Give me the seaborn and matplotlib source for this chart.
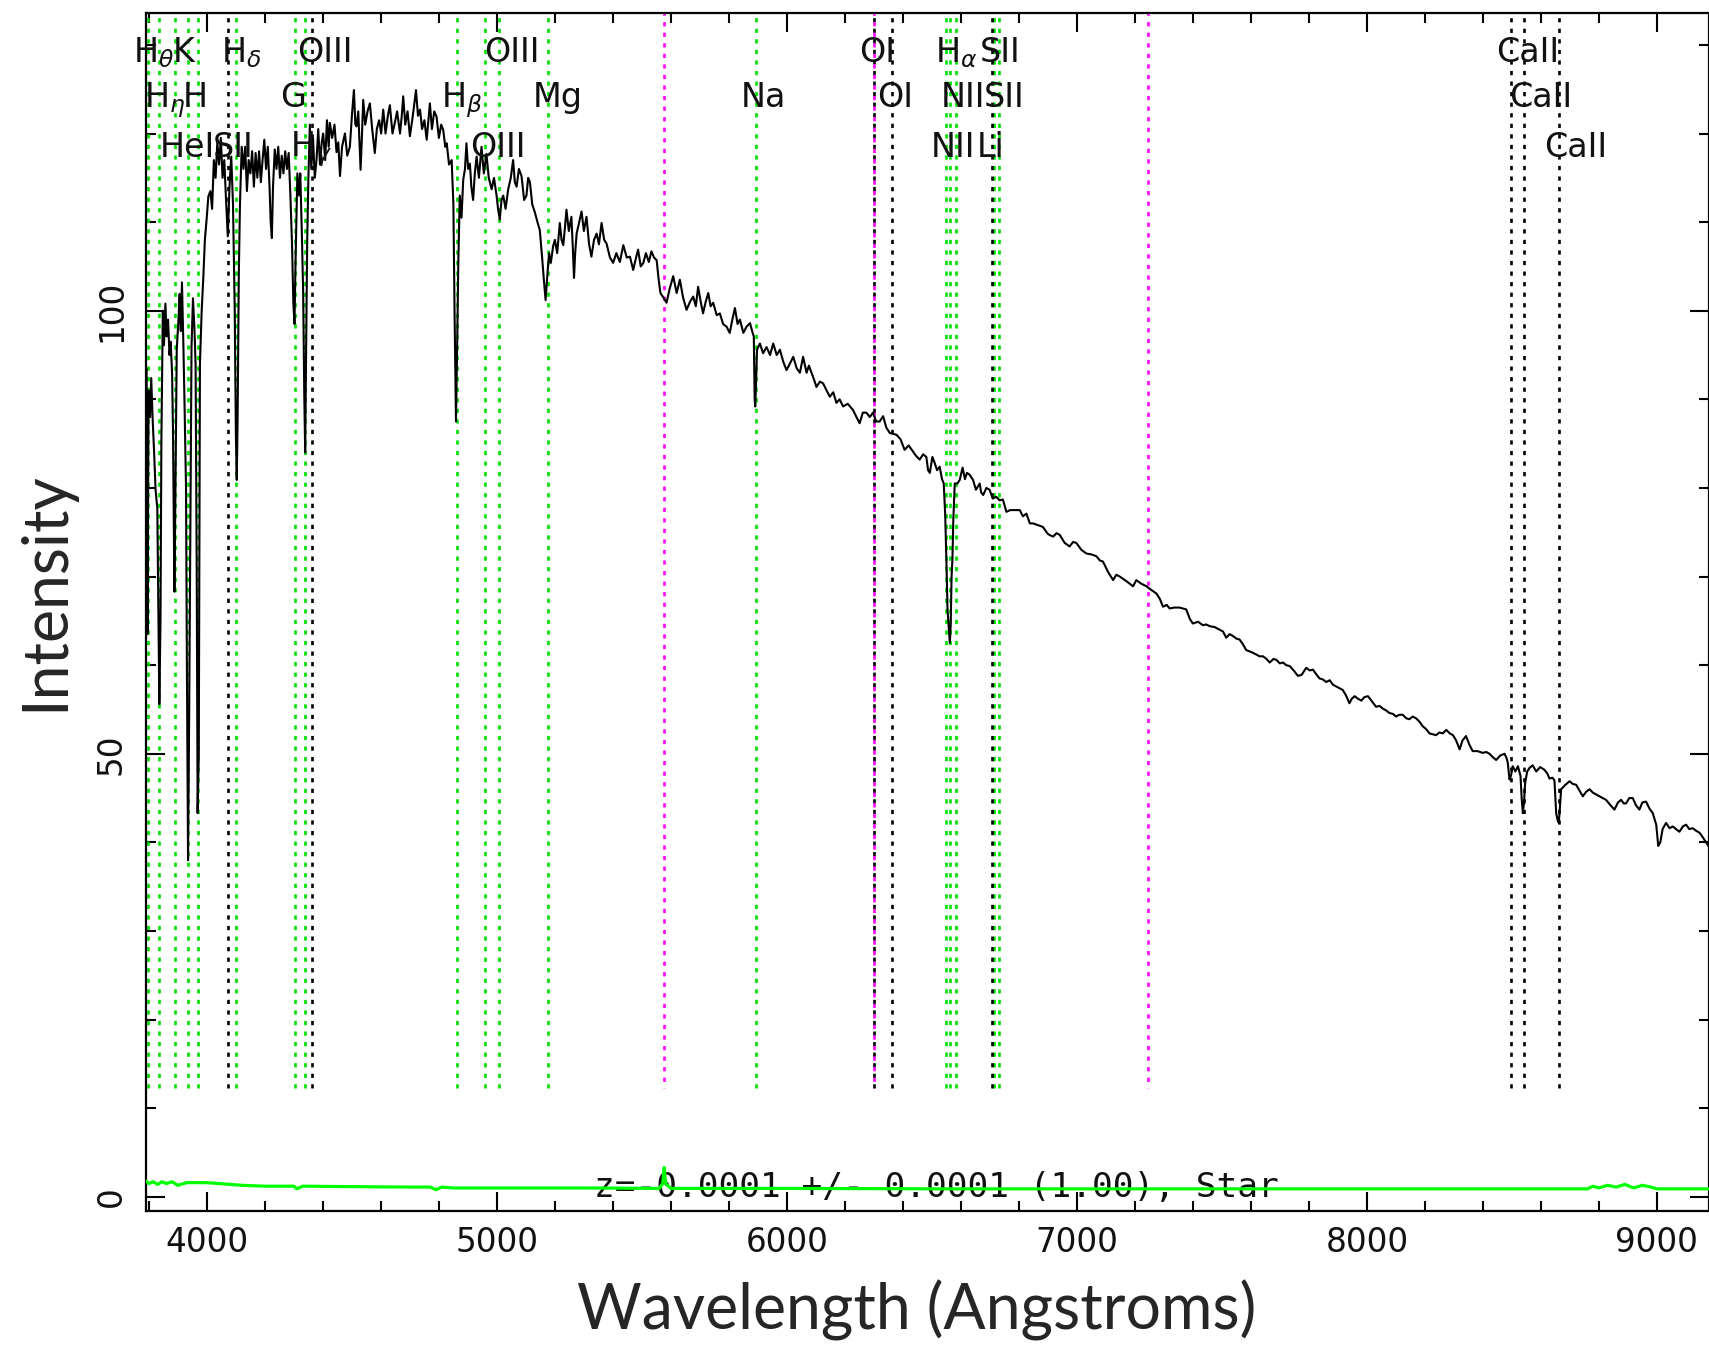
import matplotlib
matplotlib.use("Agg")
import matplotlib.pyplot as plt
import matplotlib.transforms as mtransforms
from matplotlib.ticker import MultipleLocator, FixedLocator
import numpy as np
import pandas as pd
import seaborn as sns

# ---------------- spectrum ----------------
w1 = [3792, 3795, 3799, 3804, 3808, 3813, 3818, 3823, 3829, 3833, 3836, 3840, 3843, 3848, 3852, 3857, 3861, 3866, 3871, 3875,
      3880, 3883, 3888, 3891, 3896, 3902, 3906, 3910, 3914, 3919, 3923, 3928, 3931, 3935, 3939, 3943, 3947, 3952, 3957, 3961,
      3965, 3968, 3972, 3976, 3982, 3988, 3993, 3999, 4005]
f1 = [93.5, 63.5, 91.0, 88.0, 92.4, 87.7, 84.0, 79.8, 77.7, 65.0, 55.6, 65.0, 85.0, 100.0, 96.1, 100.8, 97.1, 99.0, 95.0, 96.5,
      92.9, 86.6, 68.3, 78.0, 95.6, 99.0, 101.9, 97.7, 103.2, 96.0, 89.3, 80.0, 60.0, 38.0, 55.0, 76.1, 96.0, 101.4, 98.0, 94.0,
      70.0, 43.3, 49.9, 94.0, 100.0, 104.0, 108.0, 110.3, 112.9]

w2 = [4012, 4018, 4024, 4030, 4036, 4042, 4048, 4054, 4060, 4066, 4072, 4078, 4084, 4090, 4096, 4100, 4103, 4106, 4110, 4114,
      4120, 4126, 4132, 4138, 4144, 4150, 4156, 4162, 4168, 4174, 4180, 4186, 4192, 4198, 4204, 4210, 4216, 4220, 4224, 4228,
      4234, 4240, 4246, 4252, 4258, 4264, 4270, 4276, 4282, 4288, 4294, 4298, 4302, 4306, 4312, 4318, 4322, 4328, 4332, 4336,
      4339, 4342, 4346, 4350, 4355, 4360, 4366, 4372, 4378, 4384, 4390, 4396, 4401, 4408, 4414, 4420]
f2 = [113.5, 111.5, 117.0, 115.0, 119.0, 116.5, 119.5, 115.0, 117.0, 112.5, 108.4, 114.0, 117.4, 112.0, 100.0, 86.0, 80.9, 88.0, 104.0, 112.0,
      118.5, 116.0, 118.5, 113.5, 117.0, 115.5, 118.0, 114.0, 117.8, 115.0, 118.0, 114.5, 117.0, 119.3, 116.0, 118.5, 114.0, 110.0, 108.2, 114.0,
      118.2, 116.0, 118.5, 115.0, 117.5, 115.5, 118.0, 116.0, 117.8, 113.0, 107.0, 101.0, 98.5, 106.0, 115.5, 113.0, 115.5, 108.0, 102.0, 90.0,
      84.0, 95.0, 108.0, 115.0, 121.0, 116.0, 119.5, 115.0, 117.0, 120.5, 116.5, 119.0, 120.0, 117.0, 121.5, 118.5]

w3 = [4424, 4432, 4440, 4447, 4453, 4459, 4466, 4476, 4484, 4493, 4500, 4507, 4512, 4516, 4522, 4530, 4535, 4539, 4546, 4554,
      4562, 4570, 4579, 4586, 4594, 4601, 4608, 4616, 4624, 4631, 4640, 4648, 4656, 4666, 4672, 4677, 4684, 4692, 4700, 4708,
      4714, 4721, 4728, 4735, 4742, 4750, 4758, 4764, 4769, 4776, 4784, 4792, 4800, 4808, 4815, 4822, 4827, 4835, 4844, 4850,
      4854, 4859, 4863, 4867, 4872, 4878, 4884, 4890, 4895, 4901, 4907, 4912, 4918, 4924, 4930, 4938, 4947, 4955, 4964, 4972,
      4982, 4990, 4999]
f3 = [121.2, 119.5, 121.0, 117.9, 119.0, 115.2, 118.5, 120.0, 117.5, 118.5, 122.0, 124.9, 121.0, 120.8, 122.5, 115.9, 120.0, 123.8, 121.0, 122.5,
      123.4, 120.5, 117.8, 120.5, 121.5, 120.0, 122.7, 120.0, 122.0, 123.2, 120.0, 121.2, 122.5, 120.0, 122.0, 124.2, 121.0, 122.5, 119.7, 121.5,
      123.0, 124.9, 122.0, 122.7, 120.5, 121.5, 119.3, 121.5, 123.4, 120.5, 122.5, 121.9, 119.5, 121.0, 120.4, 118.5, 118.9, 116.5, 117.0, 112.0,
      100.0, 87.5, 96.0, 105.4, 113.0, 110.5, 114.8, 116.0, 118.9, 116.0, 116.6, 114.0, 112.5, 115.5, 117.4, 115.0, 118.5, 115.5, 117.7, 115.0,
      113.7, 115.0, 113.0]

w4 = [5004, 5010, 5016, 5022, 5030, 5039, 5048, 5056, 5062, 5068, 5076, 5085, 5094, 5102, 5108, 5114, 5122, 5131, 5140, 5148,
      5156, 5162, 5168, 5174, 5180, 5186, 5194, 5200, 5208, 5217, 5223, 5229, 5235, 5240, 5248, 5257, 5262, 5266, 5270, 5275,
      5284, 5292, 5300, 5309, 5318, 5326, 5335, 5344, 5352, 5361, 5370, 5378, 5390, 5401, 5412, 5424, 5436, 5448, 5459, 5470,
      5480, 5487, 5496, 5505, 5514, 5524, 5533, 5542, 5551, 5558, 5564, 5574, 5585, 5596, 5608, 5620, 5631, 5642, 5654, 5666,
      5677, 5686, 5694, 5703, 5711, 5720, 5729, 5737, 5746, 5758, 5769, 5780, 5792, 5803, 5812, 5821, 5830, 5838, 5850, 5861,
      5873, 5882, 5886, 5889, 5891, 5894, 5897, 5907, 5918, 5930, 5942, 5953, 5965, 5976, 5988, 5999]
f4 = [111.5, 110.3, 112.5, 113.0, 111.5, 113.7, 115.0, 117.0, 114.5, 114.0, 116.0, 115.2, 112.5, 113.0, 115.0, 114.5, 112.0, 111.1, 110.0, 109.1,
      106.0, 103.5, 101.2, 104.0, 106.5, 105.4, 107.3, 108.0, 106.5, 109.9, 108.0, 107.4, 109.5, 111.4, 109.0, 110.6, 107.0, 103.7, 106.5, 108.7,
      110.0, 111.2, 109.0, 110.6, 107.5, 106.1, 108.0, 108.7, 107.5, 109.9, 108.0, 107.6, 106.0, 105.4, 106.5, 105.5, 107.4, 106.0, 106.1, 104.6,
      106.0, 106.9, 105.0, 105.4, 106.5, 105.5, 106.7, 106.0, 105.7, 103.5, 102.0, 101.5, 100.9, 102.5, 103.9, 102.0, 103.5, 101.5, 100.1, 101.0,
      101.6, 100.5, 102.7, 101.0, 99.7, 101.0, 102.0, 100.5, 100.9, 99.5, 99.7, 98.5, 98.2, 97.5, 99.0, 100.3, 98.5, 99.0, 97.5, 98.2,
      98.6, 97.5, 97.1, 90.0, 89.2, 92.0, 95.6, 96.3, 95.2, 95.9, 95.0, 96.3, 95.0, 95.6, 94.2, 93.3]

w5 = [6010, 6022, 6034, 6045, 6056, 6068, 6076, 6085, 6094, 6102, 6114, 6125, 6137, 6148, 6160, 6171, 6182, 6194, 6210, 6228,
      6240, 6251, 6262, 6274, 6286, 6297, 6308, 6320, 6332, 6343, 6355, 6366, 6378, 6392, 6406, 6420, 6435, 6446, 6458, 6470,
      6481, 6487, 6493, 6502, 6510, 6518, 6527, 6535, 6541, 6546, 6550, 6554, 6559, 6562, 6565, 6568, 6571, 6574, 6579, 6588,
      6596, 6606, 6614, 6621, 6630, 6642, 6652, 6665, 6670, 6677, 6688, 6699, 6710, 6722, 6734, 6745, 6757, 6770, 6790, 6803,
      6814, 6826, 6838, 6849, 6866, 6883, 6900, 6918, 6930, 6941, 6958, 6975, 6987, 6998]
f5 = [94.0, 94.8, 93.5, 93.0, 94.8, 93.0, 93.8, 93.0, 92.2, 91.4, 92.0, 91.8, 91.0, 90.3, 90.8, 89.6, 90.0, 89.2, 89.5, 88.8,
      88.0, 87.3, 88.5, 88.5, 88.0, 88.5, 87.5, 87.5, 88.1, 86.8, 86.2, 86.1, 86.0, 85.5, 84.3, 84.8, 84.1, 83.6, 83.2, 83.8,
      83.5, 82.0, 81.7, 83.5, 82.8, 82.0, 82.4, 81.0, 80.5, 77.0, 72.0, 66.3, 64.0, 62.5, 64.5, 70.0, 72.0, 76.4, 80.5, 80.5,
      80.9, 82.3, 81.0, 81.7, 81.5, 80.9, 79.8, 80.5, 79.5, 79.2, 80.0, 79.8, 78.8, 79.0, 78.6, 78.7, 77.3, 77.5, 77.5, 77.5,
      76.8, 77.1, 76.0, 76.0, 75.8, 75.6, 74.8, 74.5, 74.9, 74.7, 73.8, 73.4, 73.9, 73.8]

w6 = [7016, 7033, 7050, 7067, 7080, 7090, 7108, 7125, 7136, 7148, 7170, 7194, 7205, 7222, 7240, 7256, 7274, 7286, 7297, 7310,
      7320, 7336, 7354, 7366, 7377, 7390, 7400, 7418, 7435, 7446, 7458, 7475, 7492, 7504, 7515, 7527, 7538, 7550, 7561, 7572,
      7584, 7600, 7619, 7630, 7642, 7654, 7665, 7678, 7688, 7700, 7711, 7722, 7734, 7748, 7762, 7775, 7791, 7803, 7814, 7825,
      7837, 7848, 7860, 7872, 7883, 7900, 7917, 7928, 7940, 7948, 7958, 7970, 7981, 7992, 8004]
f6 = [73.0, 72.6, 72.5, 72.3, 71.8, 71.7, 70.5, 69.6, 70.2, 70.0, 69.5, 68.9, 69.6, 69.2, 68.9, 68.5, 68.1, 67.5, 66.6, 66.8,
      66.4, 66.5, 66.5, 66.4, 66.3, 65.2, 64.7, 64.9, 64.5, 64.6, 64.4, 64.3, 64.0, 63.8, 63.1, 63.5, 63.3, 63.0, 62.9, 62.4,
      61.7, 61.5, 61.2, 61.0, 61.0, 60.7, 60.3, 60.7, 60.6, 60.2, 60.3, 60.0, 59.9, 59.4, 58.8, 58.9, 59.7, 59.4, 59.5, 59.0,
      58.5, 58.4, 58.1, 58.3, 57.8, 57.5, 57.2, 56.6, 55.7, 56.2, 56.5, 56.2, 56.0, 56.4, 56.5]

w7 = [8018, 8032, 8044, 8055, 8066, 8078, 8090, 8101, 8112, 8124, 8136, 8147, 8158, 8170, 8182, 8193, 8204, 8216, 8228, 8239,
      8250, 8262, 8274, 8286, 8297, 8308, 8320, 8330, 8342, 8354, 8365, 8382, 8400, 8412, 8423, 8435, 8446, 8460, 8475, 8482,
      8486, 8492, 8497, 8503, 8512, 8521, 8530, 8534, 8538, 8542, 8546, 8553, 8561, 8572, 8584, 8598, 8612, 8622, 8630, 8640,
      8647, 8653, 8658, 8662, 8666, 8670, 8685, 8699, 8710, 8722, 8734, 8745, 8756, 8768, 8780, 8791, 8808, 8825, 8840, 8854,
      8866, 8877, 8886, 8894, 8905, 8917, 8928, 8940, 8950, 8963, 8975, 8986, 8998, 9005, 9012, 9020, 9032, 9044, 9055, 9066,
      9078, 9090, 9101, 9112, 9124, 9136, 9147, 9158, 9170, 9180]
f7 = [55.9, 55.3, 55.4, 55.1, 54.9, 54.6, 54.5, 54.2, 54.4, 54.4, 54.0, 53.9, 54.2, 54.0, 53.6, 53.1, 52.8, 52.3, 52.2, 52.1,
      52.4, 52.3, 52.7, 52.3, 52.1, 51.5, 50.5, 51.5, 52.0, 51.0, 50.3, 50.3, 50.1, 50.2, 50.0, 49.6, 49.3, 49.8, 50.0, 49.5,
      49.0, 47.1, 47.5, 48.6, 48.0, 48.6, 47.5, 45.0, 43.3, 44.5, 46.7, 48.0, 48.4, 48.7, 48.0, 48.5, 48.2, 47.8, 47.2, 47.3,
      47.0, 43.3, 42.5, 42.2, 44.0, 46.0, 46.5, 46.9, 46.6, 46.5, 45.8, 45.2, 45.7, 46.0, 45.6, 45.4, 45.1, 44.8, 44.2, 43.7,
      44.5, 44.8, 44.4, 44.4, 45.0, 45.0, 44.2, 43.7, 44.5, 44.6, 43.8, 43.3, 42.0, 39.6, 40.0, 41.5, 42.2, 41.6, 41.8, 41.5,
      41.2, 41.8, 42.0, 41.5, 41.6, 41.3, 41.1, 40.6, 40.0, 39.5]

# ---------------- error spectrum (green) ----------------
err_wave = [3790, 3800, 3815, 3830, 3845, 3860, 3880, 3900, 3930, 3960, 4000, 4040, 4080, 4120, 4200, 4300, 4310, 4330, 4500, 4700,
            4770, 4790, 4810, 4850, 5000, 5300, 5560, 5572, 5577, 5582, 5600, 6000, 6500, 7000, 7500, 8000, 8500, 8760, 8780, 8800,
            8830, 8860, 8890, 8920, 8950, 8980, 9000, 9030, 9100, 9180]
err_flux = [1.8, 1.5, 1.7, 1.4, 1.7, 1.5, 1.7, 1.3, 1.6, 1.6, 1.6, 1.5, 1.4, 1.3, 1.2, 1.2, 0.9, 1.2, 1.15, 1.1,
            1.1, 0.8, 1.1, 1.0, 1.0, 1.0, 0.95, 1.5, 3.3, 1.5, 0.95, 0.95, 0.9, 0.9, 0.9, 0.9, 0.9, 0.9, 1.2, 1.0,
            1.3, 1.1, 1.4, 1.0, 1.3, 1.1, 0.9, 0.9, 0.9, 0.9]

# ---------------- line markers ----------------
green_lines = [3798, 3835, 3889, 3934, 3969, 4102, 4304, 4340, 4861, 4959, 5007, 5175, 5894,
               6548, 6563, 6583, 6716, 6731]
black_lines = [4072, 4363, 6300, 6363, 6707, 8498, 8542, 8662]
sky_lines = [5577, 6300, 7246]

label_wave = [3798, 3835, 3889, 3934, 3969, 4072, 4102, 4304, 4340, 4363, 4861, 4959, 5007, 5175, 5894,
              6300, 6363, 6548, 6563, 6583, 6707, 6716, 6731, 8498, 8542, 8662]
label_text = [r'H$_\theta$', r'H$_\eta$', 'HeI', 'K', 'H', 'SII', r'H$_\delta$', 'G', r'H$_\gamma$', 'OIII',
              r'H$_\beta$', 'OIII', 'OIII', 'Mg', 'Na', 'OI', 'OI', 'NII', r'H$_\alpha$', 'NII', 'Li', 'SII', 'SII',
              'CaII', 'CaII', 'CaII']
label_row = [1, 2, 3, 1, 2, 3, 1, 2, 3, 1, 2, 3, 1, 2, 2, 1, 2, 3, 1, 2, 3, 1, 2, 1, 2, 3]

x_ticks = [4000, 5000, 6000, 7000, 8000, 9000]
y_ticks = [0, 50, 100]
z_text = "z=-0.0001 +/- 0.0001 (1.00), Star"

# ---------------- plotting ----------------
sns.set_theme(style="ticks")
plt.rcParams['font.family'] = ['DejaVu Sans']
plt.rcParams['mathtext.fontset'] = 'dejavusans'

fig = plt.figure(figsize=(17.09, 13.46), dpi=100)
fig.patch.set_facecolor('white')
ax = fig.add_axes([0.08543, 0.10030, 0.91457, 0.89004])
ax.set_facecolor('white')

XMIN, XMAX = 3790, 9180
YMIN, YMAX = -1.6, 133.6
LINE_BOTTOM = 12.3
dots = (0, (1.6, 2.4))

ax.vlines(green_lines, LINE_BOTTOM, YMAX, colors='#00e000', linestyles=dots, linewidth=1.9, zorder=1)
ax.vlines(black_lines, LINE_BOTTOM, YMAX, colors='black', linestyles=dots, linewidth=1.9, zorder=1)
ax.vlines(sky_lines, LINE_BOTTOM, YMAX, colors='#ff00ff', linestyles=(1.5, (1.6, 2.4)), linewidth=1.9, zorder=1)

spec = pd.DataFrame({'wavelength': np.concatenate([w1, w2, w3, w4, w5, w6, w7]),
                     'flux': np.concatenate([f1, f2, f3, f4, f5, f6, f7])})
err = pd.DataFrame({'wavelength': err_wave, 'error': err_flux})

sns.lineplot(data=spec, x='wavelength', y='flux', color='black', linewidth=1.5,
             estimator=None, sort=False, ax=ax, zorder=3)

ax.text(5335, 0.0, z_text, fontsize=24.8, fontfamily='DejaVu Sans Mono', ha='left', va='baseline',
        color='#111111', zorder=3.5)

sns.lineplot(data=err, x='wavelength', y='error', color='#00ff00', linewidth=2.3,
             estimator=None, sort=False, ax=ax, zorder=4)

trans = mtransforms.blended_transform_factory(ax.transData, ax.transAxes)
row_y = {1: 0.959, 2: 0.9215, 3: 0.880}
for w, t, r in zip(label_wave, label_text, label_row):
    ax.text(w - 52, row_y[r], t, transform=trans, fontsize=24, ha='left', va='baseline',
            color='#111111', zorder=5)

ax.set_xlim(XMIN, XMAX)
ax.set_ylim(YMIN, YMAX)
ax.xaxis.set_major_locator(FixedLocator(x_ticks))
ax.xaxis.set_minor_locator(MultipleLocator(200))
ax.yaxis.set_major_locator(FixedLocator(y_ticks))
ax.yaxis.set_minor_locator(MultipleLocator(10))

ax.tick_params(which='both', direction='in', top=True, right=True, width=1.5, color='black')
ax.tick_params(which='major', length=13.5)
ax.tick_params(which='minor', length=7)
ax.tick_params(axis='x', labelsize=23.5, pad=11, labelcolor='#111111')
ax.tick_params(axis='y', labelsize=23.5, pad=13, labelrotation=90, labelcolor='#111111')
for lbl in ax.get_yticklabels():
    lbl.set_verticalalignment('center')

for s in ax.spines.values():
    s.set_linewidth(1.6)
    s.set_color('black')

ax.set_xlabel('Wavelength (Angstroms)', fontfamily='Lato', fontsize=45, va='center', ha='center')
ax.xaxis.set_label_coords(0.493, -0.0826)
ax.set_ylabel('Intensity', fontfamily='Lato', fontsize=45, va='center', ha='center')
ax.yaxis.set_label_coords(-0.0646, 0.5175)

fig.savefig('out.png', dpi=100, facecolor='white')
